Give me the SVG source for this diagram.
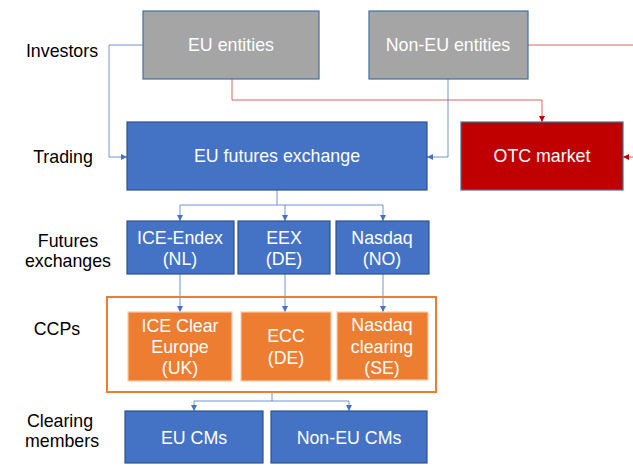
<svg xmlns="http://www.w3.org/2000/svg" width="633" height="468" viewBox="0 0 633 468">
<defs>
<style>
text{font-family:"Liberation Sans",Arial,sans-serif;font-size:17.8px;text-anchor:middle}
.lbl{fill:#000}
.wt{fill:#fff}
.grey{fill:#A5A5A5;stroke:#41719C;stroke-width:1.2}
.blue{fill:#4472C4;stroke:#2F528F;stroke-width:1.2}
.red{fill:#C00000;stroke:#41719C;stroke-width:1.2}
.orange{fill:#ED7D31;stroke:#F8CBAD;stroke-width:1.2}
.cb{fill:none;stroke:#4472C4;stroke-opacity:0.75;stroke-width:1}
.cr{fill:none;stroke:#C00000;stroke-opacity:0.6;stroke-width:1}
</style>
<marker id="ab" viewBox="0 0 6 6" refX="6" refY="3" markerWidth="6" markerHeight="6" markerUnits="userSpaceOnUse" orient="auto"><path d="M0,0L6,3L0,6z" fill="#4472C4"/></marker>
<marker id="ar" viewBox="0 0 6 6" refX="6" refY="3" markerWidth="6" markerHeight="6" markerUnits="userSpaceOnUse" orient="auto"><path d="M0,0L6,3L0,6z" fill="#C00000"/></marker>
</defs>
<rect width="633" height="468" fill="#fff"/>
<g id="labels">
<text class="lbl" x="62" y="57">Investors</text>
<text class="lbl" x="63" y="163">Trading</text>
<text class="lbl" x="68" y="247">Futures</text>
<text class="lbl" x="68" y="267">exchanges</text>
<text class="lbl" x="57" y="335">CCPs</text>
<text class="lbl" x="60" y="427">Clearing</text>
<text class="lbl" x="62" y="447">members</text>
</g>
<g id="connectors">
<path class="cb" d="M143,45H109V157H127" marker-end="url(#ab)"/>
<path class="cr" d="M232,79V100H542V122" marker-end="url(#ar)"/>
<path class="cb" d="M448,79V157H427" marker-end="url(#ab)"/>
<path class="cr" d="M528,45H633"/>
<path class="cr" d="M633,157H623" marker-end="url(#ar)"/>
<path class="cb" d="M277,190V205"/>
<path class="cb" d="M180,205H383"/>
<path class="cb" d="M180,205V221" marker-end="url(#ab)"/>
<path class="cb" d="M285,205V221" marker-end="url(#ab)"/>
<path class="cb" d="M383,205V221" marker-end="url(#ab)"/>
<path class="cb" d="M180,274V312" marker-end="url(#ab)"/>
<path class="cb" d="M285,274V312" marker-end="url(#ab)"/>
<path class="cb" d="M383,274V312" marker-end="url(#ab)"/>
<path class="cb" d="M272,392V401H349"/>
<path class="cb" d="M194,401H272"/>
<path class="cb" d="M194,401V411" marker-end="url(#ab)"/>
<path class="cb" d="M349,401V411" marker-end="url(#ab)"/>
</g>
<g id="eu-entities"><rect class="grey" x="143" y="11" width="176" height="68"/><text class="wt" x="231" y="51">EU entities</text></g>
<g id="non-eu-entities"><rect class="grey" x="369" y="11" width="159" height="68"/><text class="wt" x="448" y="51">Non-EU entities</text></g>
<g id="eu-futures-exchange"><rect class="blue" x="127" y="122" width="300" height="68"/><text class="wt" x="277" y="162">EU futures exchange</text></g>
<g id="otc-market"><rect class="red" x="461" y="122" width="162" height="68"/><text class="wt" x="542" y="162">OTC market</text></g>
<g id="ice-endex"><rect class="blue" x="127" y="221" width="107" height="53"/><text class="wt" x="180" y="244">ICE-Endex</text><text class="wt" x="180" y="265">(NL)</text></g>
<g id="eex"><rect class="blue" x="238" y="221" width="92" height="53"/><text class="wt" x="284" y="244">EEX</text><text class="wt" x="284" y="265">(DE)</text></g>
<g id="nasdaq"><rect class="blue" x="336" y="221" width="93" height="53"/><text class="wt" x="382" y="244">Nasdaq</text><text class="wt" x="382" y="265">(NO)</text></g>
<g id="ccps"><rect x="107" y="297" width="329" height="95" fill="none" stroke="#ED7D31" stroke-width="2"/></g>
<g id="ice-clear"><rect class="orange" x="128" y="312" width="104" height="69"/><text class="wt" x="180" y="332">ICE Clear</text><text class="wt" x="180" y="353">Europe</text><text class="wt" x="180" y="374">(UK)</text></g>
<g id="ecc"><rect class="orange" x="241" y="312" width="90" height="69"/><text class="wt" x="286" y="342">ECC</text><text class="wt" x="286" y="364">(DE)</text></g>
<g id="nasdaq-clearing"><rect class="orange" x="337" y="312" width="91" height="68"/><text class="wt" x="382" y="331">Nasdaq</text><text class="wt" x="382" y="353">clearing</text><text class="wt" x="382" y="374">(SE)</text></g>
<g id="eu-cms"><rect class="blue" x="125" y="411" width="138" height="52"/><text class="wt" x="194" y="444">EU CMs</text></g>
<g id="non-eu-cms"><rect class="blue" x="271" y="411" width="156" height="52"/><text class="wt" x="349" y="444">Non-EU CMs</text></g>
</svg>
